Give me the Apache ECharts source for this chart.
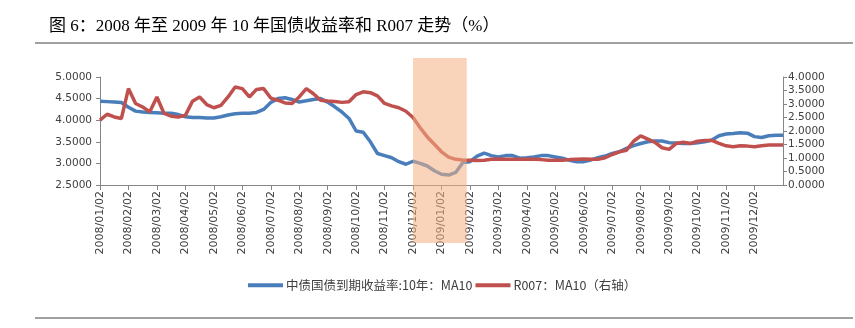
<!DOCTYPE html>
<html><head><meta charset="utf-8">
<script src="https://cdn.jsdelivr.net/npm/echarts@6/dist/echarts.min.js"></script>
<style>html,body{margin:0;padding:0;background:#fff}#c{width:855px;height:328px}</style>
</head><body><div id="c"></div>
<script>
const titleText = '图 6：2008 年至 2009 年 10 年国债收益率和 R007 走势（%）';
const seriesNames = ['中债国债到期收益率:10年：MA10', 'R007：MA10（右轴）'];
const categories = [
'2008/01/02','2008/01/09','2008/01/16','2008/01/23',
'2008/02/02','2008/02/09','2008/02/16','2008/02/23',
'2008/03/02','2008/03/09','2008/03/16','2008/03/23',
'2008/04/02','2008/04/09','2008/04/16','2008/04/23',
'2008/05/02','2008/05/09','2008/05/16','2008/05/23',
'2008/06/02','2008/06/09','2008/06/16','2008/06/23',
'2008/07/02','2008/07/09','2008/07/16','2008/07/23',
'2008/08/02','2008/08/09','2008/08/16','2008/08/23',
'2008/09/02','2008/09/09','2008/09/16','2008/09/23',
'2008/10/02','2008/10/09','2008/10/16','2008/10/23',
'2008/11/02','2008/11/09','2008/11/16','2008/11/23',
'2008/12/02','2008/12/09','2008/12/16','2008/12/23',
'2009/01/02','2009/01/09','2009/01/16','2009/01/23',
'2009/02/02','2009/02/09','2009/02/16','2009/02/23',
'2009/03/02','2009/03/09','2009/03/16','2009/03/23',
'2009/04/02','2009/04/09','2009/04/16','2009/04/23',
'2009/05/02','2009/05/09','2009/05/16','2009/05/23',
'2009/06/02','2009/06/09','2009/06/16','2009/06/23',
'2009/07/02','2009/07/09','2009/07/16','2009/07/23',
'2009/08/02','2009/08/09','2009/08/16','2009/08/23',
'2009/09/02','2009/09/09','2009/09/16','2009/09/23',
'2009/10/02','2009/10/09','2009/10/16','2009/10/23',
'2009/11/02','2009/11/09','2009/11/16','2009/11/23',
'2009/12/02','2009/12/09','2009/12/16','2009/12/23','2009/12/30'
];
const bond10y = [
4.44,4.43,4.42,4.41, 4.30,4.21,4.19,4.18, 4.17,4.16,4.16,4.13, 4.08,4.06,4.06,4.05,
4.05,4.08,4.12,4.15, 4.16,4.16,4.18,4.25, 4.41,4.50,4.52,4.48, 4.42,4.45,4.48,4.50,
4.42,4.31,4.19,4.04, 3.75,3.72,3.50,3.23, 3.18,3.13,3.04,2.98, 3.05,3.00,2.94,2.83,
2.75,2.73,2.79,3.02, 3.04,3.17,3.24,3.18, 3.15,3.18,3.18,3.12, 3.13,3.15,3.18,3.18,
3.15,3.12,3.07,3.04, 3.04,3.08,3.13,3.17, 3.23,3.27,3.35,3.41, 3.46,3.50,3.52,3.52,
3.48,3.47,3.46,3.46, 3.48,3.50,3.54,3.64, 3.68,3.69,3.71,3.70, 3.62,3.60,3.64,3.65,3.65
];
const r007 = [
2.40,2.62,2.52,2.46, 3.57,3.02,2.89,2.71, 3.26,2.65,2.55,2.52, 2.58,3.10,3.26,2.98,
2.86,2.95,3.26,3.63, 3.57,3.26,3.54,3.57, 3.22,3.14,3.04,3.02, 3.26,3.57,3.38,3.14,
3.11,3.09,3.06,3.08, 3.35,3.45,3.42,3.30, 3.02,2.93,2.86,2.73, 2.50,2.12,1.78,1.51,
1.23,1.03,0.95,0.93, 0.92,0.91,0.92,0.95, 0.96,0.95,0.95,0.95, 0.95,0.95,0.94,0.92,
0.92,0.92,0.94,0.95, 0.96,0.95,0.95,1.01, 1.13,1.23,1.29,1.62, 1.82,1.70,1.58,1.38,
1.32,1.54,1.58,1.54, 1.62,1.65,1.65,1.54, 1.45,1.42,1.45,1.44, 1.42,1.45,1.48,1.48,1.48
];
const leftTicks = {min: 2.5, max: 5.0, step: 0.5};
const rightTicks = {min: 0, max: 4.0, step: 0.5};
const shadeStart = '2008/12/02';
const shadeEnd = '2009/01/23';

const labelFont = 'DejaVu Sans';
const axisCol = '#868686';
const txtCol = '#404040';
const isMonthTick = (i, v) => /\/02$/.test(v);

const chart = echarts.init(document.getElementById('c'), null, {renderer: 'canvas'});
chart.setOption({
  animation: false,
  backgroundColor: '#fff',
  title: {
    text: titleText, left: 44, top: 13,
    textStyle: {fontFamily: 'Liberation Serif, Noto Sans CJK SC', fontSize: 17, fontWeight: 'normal', color: '#000'}
  },
  legend: {
    left: 243, top: 274, itemGap: 3, itemWidth: 35, itemHeight: 4, icon: 'rect',
    textStyle: {fontFamily: 'Noto Sans CJK SC', fontSize: 12.5, color: txtCol, padding: [0,0,0,-2]},
    data: seriesNames
  },
  grid: {left: 100, right: 72, top: 77, bottom: 143},
  xAxis: {
    type: 'category', data: categories, boundaryGap: false,
    axisLine: {lineStyle: {color: axisCol}},
    axisTick: {interval: isMonthTick, length: 5, lineStyle: {color: axisCol}},
    axisLabel: {interval: isMonthTick, rotate: 90, margin: 6, fontFamily: labelFont, fontSize: 11, color: txtCol},
    splitLine: {show: false}
  },
  yAxis: [
    {type: 'value', min: leftTicks.min, max: leftTicks.max, interval: leftTicks.step, position: 'left',
     axisLine: {show: true, lineStyle: {color: axisCol}},
     axisTick: {show: true, length: 4, lineStyle: {color: axisCol}},
     axisLabel: {margin: 8, fontFamily: labelFont, fontSize: 10.5, color: txtCol, formatter: v => v.toFixed(4)},
     splitLine: {show: false}},
    {type: 'value', min: rightTicks.min, max: rightTicks.max, interval: rightTicks.step, position: 'right',
     axisLine: {show: true, lineStyle: {color: axisCol}},
     axisTick: {show: true, length: 4, lineStyle: {color: axisCol}},
     axisLabel: {margin: 5, fontFamily: labelFont, fontSize: 10.5, color: txtCol, formatter: v => v.toFixed(4)},
     splitLine: {show: false}}
  ],
  series: [
    {name: seriesNames[0], type: 'line', yAxisIndex: 0, data: bond10y, showSymbol: false, symbol: 'none',
     lineStyle: {color: '#4A7EBB', width: 3.5}, itemStyle: {color: '#4A7EBB'}, z: 2},
    {name: seriesNames[1], type: 'line', yAxisIndex: 1, data: r007, showSymbol: false, symbol: 'none',
     lineStyle: {color: '#C0504D', width: 3.5}, itemStyle: {color: '#C0504D'}, z: 3}
  ]
});

const i0 = categories.indexOf(shadeStart), i1 = categories.indexOf(shadeEnd);
const x0 = chart.convertToPixel({xAxisIndex: 0}, i0);
const x1 = chart.convertToPixel({xAxisIndex: 0}, i1);
const step = chart.convertToPixel({xAxisIndex: 0}, i1 + 1) - x1;
const x2 = x1 + step * 0.55;
chart.setOption({
  graphic: [
    {type: 'rect', z: 100, shape: {x: x0, y: 58, width: x2 - x0, height: 185},
     style: {fill: 'rgba(244,177,131,0.55)'}},
    {type: 'line', z: 100, shape: {x1: 35, y1: 43, x2: 853, y2: 43}, style: {stroke: '#808080', lineWidth: 1.5}},
    {type: 'line', z: 100, shape: {x1: 35, y1: 318, x2: 853, y2: 318}, style: {stroke: '#808080', lineWidth: 1.5}}
  ]
});
</script>
</body></html>
